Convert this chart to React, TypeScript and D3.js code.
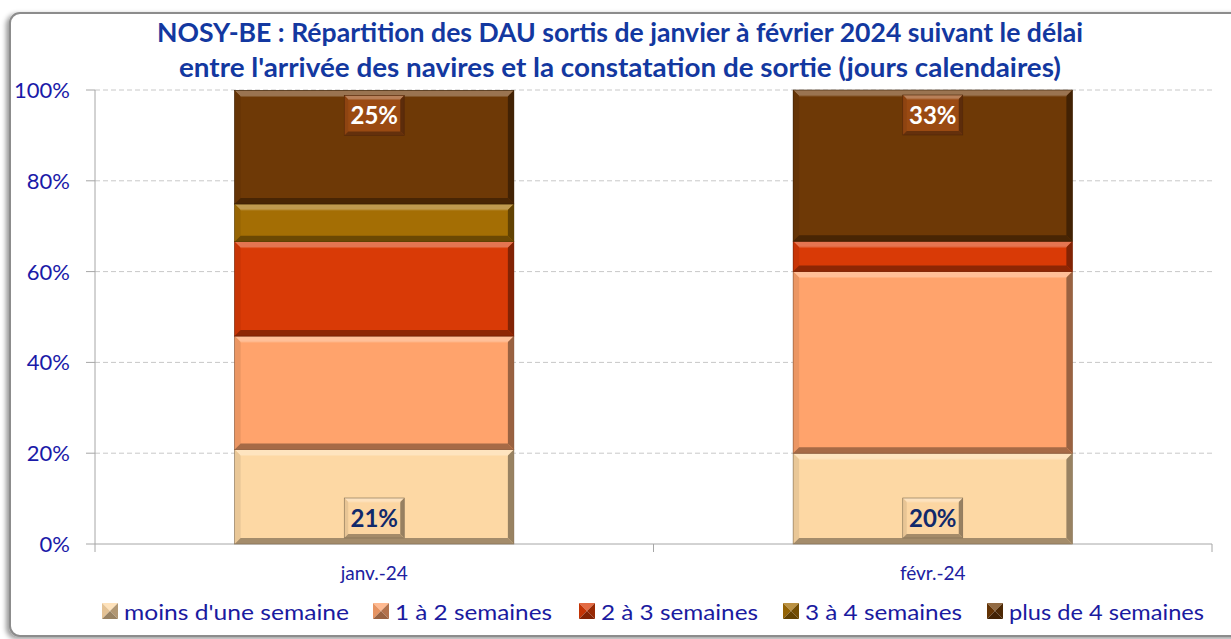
import React from "react";
import * as d3 from "d3";

const categories = ["janv.-24", "févr.-24"];
const seriesNames = [
  "moins d'une semaine",
  "1 à 2 semaines",
  "2 à 3 semaines",
  "3 à 4 semaines",
  "plus de 4 semaines",
];
const seriesColors = ["#FDD8A4", "#FFA36C", "#D93A06", "#A46E04", "#6E3906"];
const janvValues = [20.8, 25.0, 20.8, 8.3, 25.0];
const fevrValues = [20.0, 40.0, 6.7, 0.0, 33.3];
const yTicks = [0, 20, 40, 60, 80, 100];
const titleLines = [
  "NOSY-BE : Répartition des DAU sortis de janvier à février 2024 suivant le délai",
  "entre l'arrivée des navires et la constatation de sortie (jours calendaires)",
];

const W = 1231;
const H = 639;
const plot = { left: 95, right: 1212, top: 90, bottom: 544 };
const legendX = [102, 373, 579, 783, 987];
const legendTextW = [225, 157, 157, 157, 195];

const FONT = "Lato, 'DejaVu Sans', sans-serif";

function lighten(c: string, t: number) {
  return d3.interpolateRgb(c, "#ffffff")(t);
}
function darken(c: string, t: number) {
  return d3.interpolateRgb(c, "#000000")(t);
}

function Bevel({ x, y, w, h, color, b }: { x: number; y: number; w: number; h: number; color: string; b: number }) {
  const bb = Math.min(b, h / 2, w / 2);
  const pts = (a: number[][]) => a.map((p) => p.join(",")).join(" ");
  const x1 = x + w;
  const y1 = y + h;
  return (
    <g>
      <rect x={x} y={y} width={w} height={h} fill={color} />
      <polygon points={pts([[x, y], [x1, y], [x1 - bb, y + bb], [x + bb, y + bb]])} fill={lighten(color, 0.3)} />
      <polygon points={pts([[x, y], [x + bb, y + bb], [x + bb, y1 - bb], [x, y1]])} fill={darken(color, 0.08)} />
      <polygon points={pts([[x1, y], [x1 - bb, y + bb], [x1 - bb, y1 - bb], [x1, y1]])} fill={darken(color, 0.4)} />
      <polygon points={pts([[x, y1], [x1, y1], [x1 - bb, y1 - bb], [x + bb, y1 - bb]])} fill={darken(color, 0.35)} />
      <line x1={x + bb} y1={y + bb} x2={x1 - bb} y2={y + bb} stroke={lighten(color, 0.15)} strokeWidth={1} />
      <rect x={x} y={y} width={w} height={h} fill="none" stroke={darken(color, 0.5)} strokeWidth={0.6} />
    </g>
  );
}

function Marker({ x, y, s, color }: { x: number; y: number; s: number; color: string }) {
  const cx = x + s / 2;
  const cy = y + s / 2;
  const x1 = x + s;
  const y1 = y + s;
  const pts = (a: number[][]) => a.map((p) => p.join(",")).join(" ");
  return (
    <g>
      <polygon points={pts([[x, y], [x1, y], [cx, cy]])} fill={lighten(color, 0.25)} />
      <polygon points={pts([[x, y], [cx, cy], [x, y1]])} fill={darken(color, 0.1)} />
      <polygon points={pts([[x1, y], [cx, cy], [x1, y1]])} fill={darken(color, 0.3)} />
      <polygon points={pts([[x, y1], [cx, cy], [x1, y1]])} fill={darken(color, 0.4)} />
    </g>
  );
}

export default function App() {
  const table = categories.map((c, i) => {
    const vals = i === 0 ? janvValues : fevrValues;
    const row: any = { category: c };
    seriesNames.forEach((s, j) => (row[s] = vals[j]));
    return row;
  });
  const stack = d3.stack().keys(seriesNames)(table as any);

  const x = d3.scaleBand().domain(categories).range([plot.left, plot.right]).paddingInner(0.5).paddingOuter(0.25);
  const band = d3.scaleBand().domain(categories).range([plot.left, plot.right]);
  const y = d3.scaleLinear().domain([0, 100]).range([plot.bottom, plot.top]);

  const labelW = 60;
  const labelH = 40;

  return (
    <svg width={W} height={H} style={{ position: "absolute", left: 0, top: 0 }} fontFamily={FONT}>
      <defs>
        <filter id="shadow" x="-5%" y="-5%" width="110%" height="110%">
          <feDropShadow dx="-3" dy="2" stdDeviation="2.5" floodColor="#000" floodOpacity="0.4" />
        </filter>
      </defs>
      <rect x={0} y={0} width={W} height={H} fill="#ffffff" />
      <rect x={10} y={13} width={1250} height={623} rx={10} fill="#ffffff" stroke="#8c8c8c" strokeWidth={2} filter="url(#shadow)" />

      {titleLines.map((t, i) => (
        <text
          key={i}
          x={620}
          y={42 + i * 35}
          textAnchor="middle"
          fontSize={26}
          fontWeight="bold"
          fill="#1338A0"
          textLength={i === 0 ? 926 : 882}
          lengthAdjust="spacingAndGlyphs"
        >
          {t}
        </text>
      ))}

      {/* gridlines */}
      {yTicks.map((t) => (
        <g key={t}>
          {t > 0 && (
            <line x1={plot.left} x2={plot.right} y1={y(t)} y2={y(t)} stroke="#c8c8c8" strokeWidth={1} strokeDasharray="5,3" />
          )}
          <line x1={plot.left - 9} x2={plot.left} y1={y(t)} y2={y(t)} stroke="#a6a6a6" strokeWidth={1} />
          <text x={70} y={y(t)} dy="0.36em" textAnchor="end" fontSize={22} fill="#1A1AA8">
            {t}%
          </text>
        </g>
      ))}
      <line x1={plot.left} x2={plot.left} y1={plot.top} y2={plot.bottom} stroke="#a6a6a6" strokeWidth={1} />
      <line x1={plot.left} x2={plot.right} y1={plot.bottom} y2={plot.bottom} stroke="#a6a6a6" strokeWidth={1} />
      {[...categories.map((c) => band(c) as number), plot.right].map((xx, i) => (
        <line key={i} x1={xx} x2={xx} y1={plot.bottom} y2={plot.bottom + 8} stroke="#a6a6a6" strokeWidth={1} />
      ))}

      {/* bars */}
      {stack.map((layer, si) => (
        <g key={si}>
          {layer.map((d: any, ci: number) => {
            const y0 = y(d[1]);
            const y1 = y(d[0]);
            if (y1 - y0 <= 0.5) return null;
            return (
              <Bevel key={ci} x={x(categories[ci]) as number} y={y0} w={x.bandwidth()} h={y1 - y0} color={seriesColors[si]} b={6} />
            );
          })}
        </g>
      ))}

      {/* labels */}
      {categories.map((c, ci) => {
        const cx = (x(c) as number) + x.bandwidth() / 2;
        const first = stack[0][ci];
        const last = stack[stack.length - 1][ci];
        const vFirst = (first as any)[1] - (first as any)[0];
        const vLast = (last as any)[1] - (last as any)[0];
        const bTop = y((first as any)[0]) - 6 - labelH;
        const tTop = y((last as any)[1]) + 5;
        return (
          <g key={c}>
            <Bevel x={cx - labelW / 2} y={bTop} w={labelW} h={labelH} color="#FCD6A2" b={4} />
            <text x={cx} y={bTop + labelH / 2} dy="0.36em" textAnchor="middle" fontSize={24} fontWeight="bold" fill="#10296B">
              {Math.round(vFirst)}%
            </text>
            <Bevel x={cx - labelW / 2} y={tTop} w={labelW} h={labelH} color="#9A4A12" b={4} />
            <text x={cx} y={tTop + labelH / 2} dy="0.36em" textAnchor="middle" fontSize={24} fontWeight="bold" fill="#ffffff">
              {Math.round(vLast)}%
            </text>
            <text x={cx} y={580} textAnchor="middle" fontSize={19} fill="#2020A0">
              {c}
            </text>
          </g>
        );
      })}

      {/* legend */}
      {seriesNames.map((s, i) => (
        <g key={s}>
          <Marker x={legendX[i]} y={603} s={16} color={seriesColors[i]} />
          <text
            x={legendX[i] + 22}
            y={612}
            dy="0.36em"
            fontSize={21}
            fill="#1A1AA0"
            textLength={legendTextW[i]}
            lengthAdjust="spacingAndGlyphs"
          >
            {s}
          </text>
        </g>
      ))}
    </svg>
  );
}
